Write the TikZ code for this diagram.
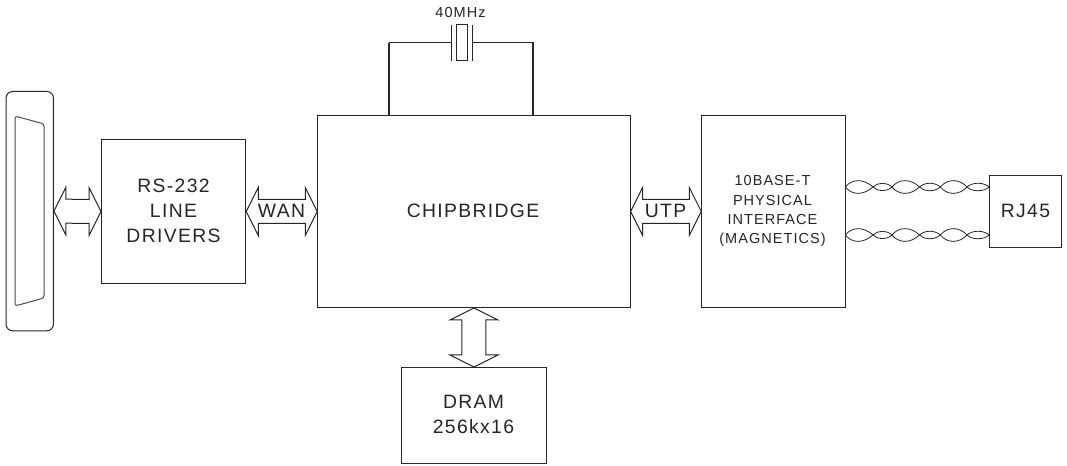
\documentclass[tikz,border=0pt]{standalone}
\usepackage{fontspec}
\setmainfont[LetterSpace=7]{Liberation Sans}
\usetikzlibrary{calc}
\tikzset{
  x=0.75pt,y=-0.75pt,
  line/.style={draw=black!85,line width=0.75pt},
  bus/.style={line,line join=miter,fill=white},
  tag/.style={inner sep=0pt,font=\fontsize{14.5pt}{18.75pt}\selectfont,align=center,text=black!85},
  smalltag/.style={inner sep=0pt,font=\fontsize{10.9pt}{14.3pt}\selectfont,align=center,text=black!85},
  wire/.style={draw=black!85,line width=1.4pt},
  strand/.style={draw=black!85,line width=0.6pt},
}
\newcommand{\hbus}[2]{%
  \draw[bus] (#1.east) -- ($(#1.east)+(12,-24)$) -- ($(#1.east)+(12,-12)$)
    -- ($(#2.west)+(-12,-12)$) -- ($(#2.west)+(-12,-24)$) -- (#2.west)
    -- ($(#2.west)+(-12,24)$) -- ($(#2.west)+(-12,12)$)
    -- ($(#1.east)+(12,12)$) -- ($(#1.east)+(12,24)$) -- cycle;}
\newcommand{\twist}[3]{% from, to, sign
  \draw[strand] (#1) .. controls ($(#1)+(7,#3*-8.5)$) and ($(#1)+(18,#3*-8.5)$) .. ($(#1)+(27.7,0)$)
    .. controls ($(#1)+(33,#3*5)$) and ($(#1)+(41,#3*5)$) .. ($(#1)+(46.7,0)$)
    .. controls ($(#1)+(53.7,#3*-8.5)$) and ($(#1)+(65,#3*-8.5)$) .. ($(#1)+(74.3,0)$)
    .. controls ($(#1)+(79.5,#3*5)$) and ($(#1)+(89.5,#3*5)$) .. ($(#1)+(95,0)$)
    .. controls ($(#1)+(102,#3*-8.5)$) and ($(#1)+(114,#3*-8.5)$) .. ($(#1)+(121.7,0)$)
    .. controls ($(#1)+(127,#3*5)$) and ($(#1)+(138,#3*5)$) .. (#2);}
\begin{document}
\begin{tikzpicture}
\useasboundingbox[fill=white] (0,0) rectangle (1067,466);
% connector
\node[line,rectangle,rounded corners=5pt,inner sep=0pt,minimum width=35.6pt,minimum height=179.5pt,anchor=north west] (conn) at (5.5,91) {};
\draw[line,draw=black!70,rounded corners=2pt] (15,116) -- (44,124) -- (44,298) -- (15,306) -- cycle;
% boxes
\node[line,rectangle,inner sep=0pt,minimum width=108.2pt,minimum height=108pt,anchor=north west] (rs) at (101,139) {};
\node[line,rectangle,inner sep=0pt,minimum width=234.2pt,minimum height=144pt,anchor=north west] (chip) at (317.3,115) {};
\node[line,rectangle,inner sep=0pt,minimum width=108pt,minimum height=144pt,anchor=north west] (phy) at (701.3,115) {};
\node[line,rectangle,inner sep=0pt,minimum width=54pt,minimum height=54pt,anchor=north west] (rj) at (989.3,175) {};
\node[line,rectangle,inner sep=0pt,minimum width=108.2pt,minimum height=72pt,anchor=north west] (dram) at (401.3,367) {};
% buses
\hbus{conn}{rs}
\hbus{rs}{chip}
\hbus{chip}{phy}
\draw[bus] (chip.south) -- ($(chip.south)+(-24,12)$) -- ($(chip.south)+(-12,12)$)
  -- ($(dram.north)+(-12,-12)$) -- ($(dram.north)+(-24,-12)$) -- (dram.north)
  -- ($(dram.north)+(24,-12)$) -- ($(dram.north)+(12,-12)$)
  -- ($(chip.south)+(12,12)$) -- ($(chip.south)+(24,12)$) -- cycle;
% crystal
\node[line,rectangle,inner sep=0pt,minimum width=8.4pt,minimum height=27pt] (xtal) at (461.7,43) {};
\coordinate (pl) at (451,43);
\coordinate (pr) at (472,43);
\coordinate (cl) at (389.3,43);
\coordinate (cr) at (533.3,43);
\draw[line] (451,25) -- (451,61) (472,25) -- (472,61);
\draw[wire] (chip.north -| cl) -- (cl);
\draw[wire] (chip.north -| cr) -- (cr);
\draw[line,line cap=rect] (cl) -- (pl);
\draw[line,line cap=rect] (cr) -- (pr);
% twisted pairs
\coordinate (a1) at (845.3,187);
\coordinate (b1) at (989.3,187);
\coordinate (a2) at (845.3,235);
\coordinate (b2) at (989.3,235);
\twist{a1}{b1}{1}
\twist{a1}{b1}{-1}
\twist{a2}{b2}{1}
\twist{a2}{b2}{-1}
% labels
\node[tag] (trs) at (173.5,211) {RS-232\\LINE\\DRIVERS};
\node[tag] (twan) at (281.5,211) {WAN};
\node[tag] (tchip) at (473,211) {CHIPBRIDGE};
\node[tag] (tutp) at (665.5,211) {UTP};
\node[smalltag] (tphy) at (772.5,211) {10BASE-T\\PHYSICAL\\INTERFACE\\(MAGNETICS)};
\node[tag] (trj) at (1025.5,211) {RJ45};
\node[tag] (tdram) at (473.5,414) {DRAM\\256kx16};
\node[smalltag] (txt) at (460.5,13) {40MHz};
\end{tikzpicture}
\end{document}
